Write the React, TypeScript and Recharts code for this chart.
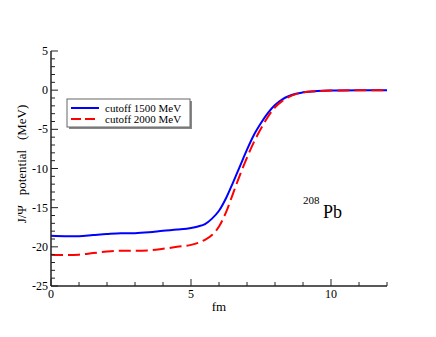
import React from 'react';
import { LineChart, Line, XAxis, YAxis } from 'recharts';

const radius = [0, 0.5, 1, 1.5, 2, 2.5, 3, 3.5, 4, 4.5, 5, 5.25, 5.5, 5.75, 6, 6.25, 6.5, 6.75, 7, 7.25, 7.5, 7.75, 8, 8.25, 8.5, 8.75, 9, 9.5, 10, 11, 12];
const cutoff1500 = [-18.6, -18.65, -18.65, -18.5, -18.35, -18.25, -18.25, -18.15, -17.95, -17.8, -17.6, -17.4, -17.1, -16.4, -15.4, -13.8, -11.8, -9.7, -7.6, -5.7, -4.2, -2.9, -1.9, -1.2, -0.75, -0.45, -0.28, -0.12, -0.05, -0.01, 0];
const cutoff2000 = [-21.0, -21.05, -21.0, -20.8, -20.6, -20.5, -20.5, -20.45, -20.25, -20.0, -19.75, -19.5, -19.1, -18.5, -17.4, -15.6, -13.2, -10.8, -8.6, -6.6, -4.9, -3.4, -2.2, -1.4, -0.85, -0.5, -0.3, -0.12, -0.05, -0.01, 0];
const xTicks = [0, 1, 2, 3, 4, 5, 6, 7, 8, 9, 10, 11, 12];
const xMajor = [0, 5, 10];
const yTicks = [5, 4, 3, 2, 1, 0, -1, -2, -3, -4, -5, -6, -7, -8, -9, -10, -11, -12, -13, -14, -15, -16, -17, -18, -19, -20, -21, -22, -23, -24, -25];
const yMajor = [5, 0, -5, -10, -15, -20, -25];

const data = radius.map((r, i) => ({ r, a: cutoff1500[i], b: cutoff2000[i] }));

const FONT = '"Liberation Serif", "Times New Roman", serif';
const AX = '#222';

const BottomTick = (props: any) => {
  const { x, y, payload } = props;
  const major = xMajor.includes(payload.value);
  return (
    <g>
      <line x1={x} x2={x} y1={y} y2={y - (major ? 7 : 4)} stroke={AX} strokeWidth={1} />
      {major && (
        <text x={x} y={y + 12} textAnchor="middle" fontFamily={FONT} fontSize={12} fill="#000">{payload.value}</text>
      )}
    </g>
  );
};
const TopTick = (props: any) => {
  const { x, y, payload } = props;
  const major = xMajor.includes(payload.value);
  return <line x1={x} x2={x} y1={y} y2={y + (major ? 7 : 4)} stroke={AX} strokeWidth={1} />;
};
const LeftTick = (props: any) => {
  const { x, y, payload } = props;
  const major = yMajor.includes(payload.value);
  return (
    <g>
      <line x1={x} x2={x + (major ? 7 : 4)} y1={y} y2={y} stroke={AX} strokeWidth={1} />
      {major && (
        <text x={x - 3} y={y + 4} textAnchor="end" fontFamily={FONT} fontSize={12} fill="#000">{payload.value}</text>
      )}
    </g>
  );
};
const RightTick = (props: any) => {
  const { x, y, payload } = props;
  const major = yMajor.includes(payload.value);
  return <line x1={x} x2={x - (major ? 7 : 4)} y1={y} y2={y} stroke={AX} strokeWidth={1} />;
};

export default function App() {
  return (
    <div style={{ position: 'absolute', left: 0, top: 0, width: 436, height: 337, background: '#fff' }}>
      <LineChart width={436} height={337} data={data} margin={{ top: 51, right: 49, bottom: 21, left: 21 }}>
        <XAxis dataKey="r" type="number" domain={[0, 12]} ticks={xTicks} interval={0} height={30}
          tickSize={0} tickMargin={0} tickLine={false} tick={<BottomTick />} axisLine={{ stroke: AX, strokeWidth: 1.5 }} />
        <XAxis xAxisId="top" orientation="top" dataKey="r" type="number" domain={[0, 12]} ticks={xTicks} interval={0} height={0}
          tickSize={0} tickMargin={0} tickLine={false} tick={<TopTick />} axisLine={{ stroke: AX, strokeWidth: 1.5 }} />
        <YAxis type="number" domain={[-25, 5]} ticks={yTicks} interval={0} width={30}
          tickSize={0} tickMargin={0} tickLine={false} tick={<LeftTick />} axisLine={{ stroke: AX, strokeWidth: 1.5 }} />
        <YAxis yAxisId="right" orientation="right" type="number" domain={[-25, 5]} ticks={yTicks} interval={0} width={0}
          tickSize={0} tickMargin={0} tickLine={false} tick={<RightTick />} axisLine={{ stroke: AX, strokeWidth: 1.5 }} />
        <Line dataKey="a" type="monotone" stroke="#0000ff" strokeWidth={2} dot={false} isAnimationActive={false} />
        <Line dataKey="b" type="monotone" stroke="#ff0000" strokeWidth={2} strokeDasharray="12 5" dot={false} isAnimationActive={false} />
      </LineChart>
      <svg width={436} height={337} style={{ position: 'absolute', left: 0, top: 0, pointerEvents: 'none' }}>
        <text x={21} y={164} transform="rotate(-90 21 164)" textAnchor="middle" dominantBaseline="central"
          fontFamily={FONT} fontSize={13} fill="#000" style={{ whiteSpace: 'pre' }}>{'J/Ψ   potential   (MeV)'}</text>
        <text x={219} y={311} textAnchor="middle" fontFamily={FONT} fontSize={13} fill="#000">fm</text>
        <text x={303} y={204} fontFamily={FONT} fontSize={11} fill="#000">208</text>
        <text x={323} y={218} fontFamily={FONT} fontSize={18} fill="#000">Pb</text>
        <rect x={69} y={101} width={123} height={28} fill="#888" />
        <rect x={67} y={99} width={123} height={28} fill="#fff" stroke="#666" strokeWidth={1} />
        <line x1={71} x2={99} y1={108} y2={108} stroke="#0000ff" strokeWidth={2} />
        <line x1={71} x2={99} y1={119} y2={119} stroke="#ff0000" strokeWidth={2} strokeDasharray="10 4" />
        <text x={105} y={112} fontFamily={FONT} fontSize={11} fill="#000">cutoff 1500 MeV</text>
        <text x={105} y={123} fontFamily={FONT} fontSize={11} fill="#000">cutoff 2000 MeV</text>
      </svg>
    </div>
  );
}
